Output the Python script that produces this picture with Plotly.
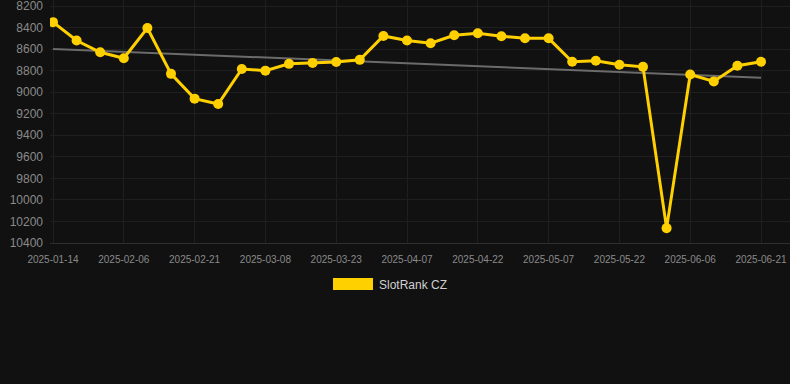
import plotly.graph_objects as go

dates = ["2025-01-14", "2025-01-22", "2025-01-29", "2025-02-06", "2025-02-11", "2025-02-16",
         "2025-02-21", "2025-02-26", "2025-03-03", "2025-03-08", "2025-03-13", "2025-03-18",
         "2025-03-23", "2025-03-28", "2025-04-02", "2025-04-07", "2025-04-12", "2025-04-17",
         "2025-04-22", "2025-04-27", "2025-05-02", "2025-05-07", "2025-05-12", "2025-05-17",
         "2025-05-22", "2025-05-27", "2025-06-01", "2025-06-06", "2025-06-11", "2025-06-16",
         "2025-06-21"]
rank = [8350, 8520, 8630, 8685, 8405, 8830, 9060, 9110, 8785, 8800, 8737, 8728, 8720, 8700,
        8478, 8520, 8545, 8472, 8453, 8481, 8500, 8500, 8718, 8709, 8746, 8765, 10262, 8836,
        8900, 8755, 8718]
trend_x = ["2025-01-14", "2025-06-21"]
trend_y = [8598, 8866]
tick_labels = dates[::3]
y_ticks = [8200, 8400, 8600, 8800, 9000, 9200, 9400, 9600, 9800, 10000, 10200, 10400]
y_tick_text = [str(v) for v in y_ticks]

W, H = 790, 384
L, R, T, B = 50, 0, 0, 141
pw, ph = W - L - R, H - T - B

fig = go.Figure()
fig.add_trace(go.Scatter(x=trend_x, y=trend_y, mode="lines",
                         line=dict(color="#6b6b6b", width=2), showlegend=False,
                         hoverinfo="skip"))
fig.add_trace(go.Scatter(x=dates, y=rank, mode="lines+markers", name="SlotRank CZ",
                         line=dict(color="#FFD000", width=3),
                         marker=dict(color="#FFD000", size=10), showlegend=False))

step = 23.6
x0 = -3 / step
ppu = 237.0 / 2200.0  # pixels per rank unit
y_top = 8200 - 6 / ppu
fig.update_layout(
    width=W, height=H,
    margin=dict(l=L, r=R, t=T, b=B),
    paper_bgcolor="#111111", plot_bgcolor="#111111",
    font=dict(family="Liberation Sans, Arial, sans-serif", color="#8a8a8a", size=11),
    xaxis=dict(type="category", categoryorder="array", categoryarray=dates,
               range=[x0, x0 + pw / step], tickmode="array", tickvals=tick_labels,
               ticktext=tick_labels, showgrid=True, gridcolor="#1f1f1f", gridwidth=1,
               zeroline=False, showline=True, linecolor="#2e2e2e", linewidth=1,
               tickfont=dict(size=10, color="#8a8a8a"), ticks="", ticklabelstandoff=7),
    yaxis=dict(range=[10400, y_top], tickmode="array", tickvals=y_ticks,
               ticktext=y_tick_text, ticklabeloverflow="allow",
               showgrid=True, gridcolor="#1f1f1f", gridwidth=1, zeroline=False,
               showline=False, tickfont=dict(size=12, color="#8a8a8a"), ticks="",
               ticklabelstandoff=6),
    showlegend=False,
)

def px_x(p):
    return (p - L) / pw

def px_y(p):
    return (H - B - p) / ph

fig.add_shape(type="rect", xref="paper", yref="paper",
              x0=px_x(333), x1=px_x(373), y0=px_y(290), y1=px_y(278),
              fillcolor="#FFD000", line=dict(width=0))
fig.add_annotation(xref="paper", yref="paper", x=px_x(377), y=px_y(284.5),
                   xanchor="left", yanchor="middle", showarrow=False,
                   text="SlotRank CZ", font=dict(size=12, color="#d0d0d0"))

fig.write_html("out.html")
